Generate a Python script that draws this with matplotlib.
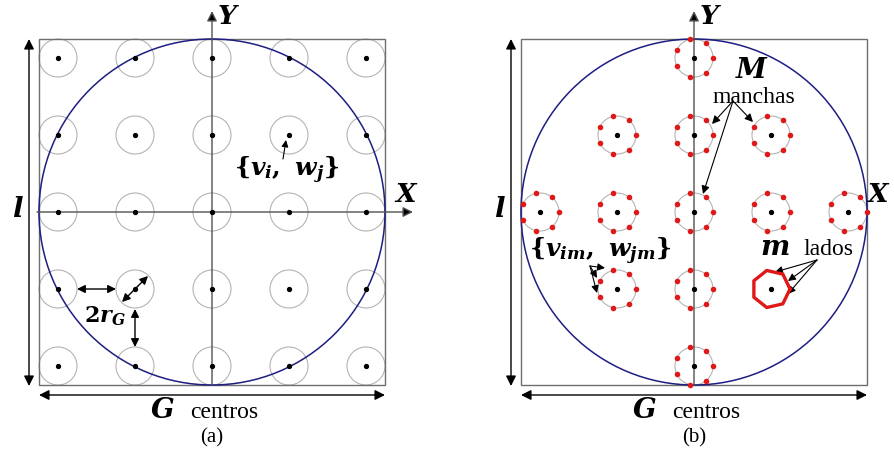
import numpy as np
import matplotlib
matplotlib.use("Agg")
import matplotlib.pyplot as plt
from matplotlib.patches import Circle, Rectangle

plt.rcParams["font.family"] = ["Liberation Serif", "DejaVu Serif"]
plt.rcParams["mathtext.fontset"] = "custom"
plt.rcParams["mathtext.it"] = "DejaVu Serif:italic:bold"
plt.rcParams["mathtext.rm"] = "DejaVu Serif:bold"
plt.rcParams["mathtext.bf"] = "DejaVu Serif:bold"

# geometry of the two panels (pixel units)
panel_cx = [212, 694]
panel_cy = 213
spacing = 77          # distance between grid centres
spot_r = 19           # radius of each small circle
half_box = 173        # half side of square = radius of big circle

# grid indices (a): full 5x5 grid
grid_idx = [-2, -1, 0, 1, 2]
# spots (b): diamond |i|+|j| <= 2, (i, j) with j upward
spot_idx = [(0, 2),
            (-1, 1), (0, 1), (1, 1),
            (-2, 0), (-1, 0), (0, 0), (1, 0), (2, 0),
            (-1, -1), (0, -1), (1, -1),
            (0, -2)]
bold_spot = (1, -1)
n_sides = 7

box_col = "#6e6e6e"
axis_col = "#505050"
ring_col = "#b4b4b4"
big_col = "#1e1e82"
red = "#e01818"

fig = plt.figure(figsize=(8.95, 4.56), dpi=100)
ax = fig.add_axes([0, 0, 1, 1])
ax.set_xlim(0, 895)
ax.set_ylim(456, 0)
ax.axis("off")


def arrow(p0, p1, both=False, lw=0.9, ms=14, col="black"):
    ax.annotate("", xy=p1, xytext=p0,
                arrowprops=dict(arrowstyle="<|-|>" if both else "-|>",
                                color=col, fc="black", lw=lw, mutation_scale=ms,
                                shrinkA=0, shrinkB=0))


for k, cx in enumerate(panel_cx):
    left, right = cx - half_box, cx + half_box
    top, bottom = panel_cy - half_box, panel_cy + half_box
    ax.add_patch(Rectangle((left, top), 2 * half_box, 2 * half_box,
                           fill=False, ec=box_col, lw=1.0, zorder=2))

    if k == 0:
        for i in grid_idx:
            for j in grid_idx:
                x, y = cx + i * spacing, panel_cy - j * spacing
                ax.add_patch(Circle((x, y), spot_r, fill=False, ec=ring_col, lw=0.8, zorder=1))
                ax.plot(x, y, "o", color="black", ms=2.8, zorder=4)
    else:
        ang = np.arange(n_sides) * 2 * np.pi / n_sides
        for (i, j) in spot_idx:
            x, y = cx + i * spacing, panel_cy - j * spacing
            px = x + spot_r * np.cos(ang)
            py = y - spot_r * np.sin(ang)
            if (i, j) == bold_spot:
                ax.plot(np.append(px, px[0]), np.append(py, py[0]), color=red, lw=2.4, zorder=4)
            else:
                ax.add_patch(Circle((x, y), spot_r, fill=False, ec=ring_col, lw=0.8, zorder=1))
                ax.plot(px, py, "o", color=red, ms=4.0, mec="none", zorder=5)
            ax.plot(x, y, "o", color="black", ms=2.8, zorder=5)

    # big circle
    ax.add_patch(Circle((cx, panel_cy), half_box, fill=False, ec=big_col, lw=1.1, zorder=3))

    # axes
    x_end = 413 if k == 0 else 905
    arrow((left - 2, panel_cy), (x_end, panel_cy), lw=1.0, ms=15, col=axis_col)
    arrow((cx, bottom), (cx, 12), lw=1.0, ms=15, col=axis_col)
    ax.text(cx + 16, 18, "$Y$", fontsize=19, ha="center", va="center")
    if k == 0:
        ax.text(right + 21, 196, "$X$", fontsize=19, ha="center", va="center")
    else:
        ax.text(891, 196, "$X$", fontsize=19, ha="right", va="center")

    # dimension arrows
    arrow((left - 10, bottom + 1), (left - 10, top), both=True, lw=1.0, ms=15)
    arrow((left, bottom + 10), (right, bottom + 10), both=True, lw=1.0, ms=15)
    ax.text(left - 21, panel_cy - 2, "$l$", fontsize=20, ha="center", va="center")
    ax.text(cx - 50, 412, "$G$", fontsize=20, ha="center", va="center")
    ax.text(cx + 12, 413, "centros", fontsize=17, ha="center", va="center")
    ax.text(cx, 438, "(a)" if k == 0 else "(b)", fontsize=15, ha="center", va="center")

# annotations (a)
ax.text(287, 170, r"$\{v_i,\ w_j\}$", fontsize=18, ha="center", va="center")
arrow((283, 160), (286, 141), lw=0.8, ms=10)
arrow((77, 290), (116, 290), both=True, lw=1.0, ms=12)
arrow((135, 310), (135, 348), both=True, lw=1.0, ms=12)
arrow((122, 303), (148, 277), both=True, lw=1.0, ms=12)
ax.text(105, 316, "$2r_G$", fontsize=16, ha="center", va="center")

# annotations (b)
ax.text(752, 72, "$M$", fontsize=20, ha="center", va="center")
ax.text(754, 98, "manchas", fontsize=17, ha="center", va="center")
for tip in [(712, 125), (753, 123), (703, 195)]:
    arrow((733, 102), tip, lw=0.8, ms=12)

ax.text(600, 251, r"$\{v_{im},\ w_{jm}\}$", fontsize=18, ha="center", va="center")
for tip in [(605, 269), (597, 279), (597, 294)]:
    arrow((590, 267), tip, lw=0.8, ms=11)

ax.text(775, 249, "$m$", fontsize=20, ha="center", va="center")
ax.text(828, 250, "lados", fontsize=17, ha="center", va="center")
for tip in [(775, 273), (788, 282), (788, 295)]:
    arrow((817, 261), tip, lw=0.8, ms=11)

fig.savefig("out.png", dpi=100)
